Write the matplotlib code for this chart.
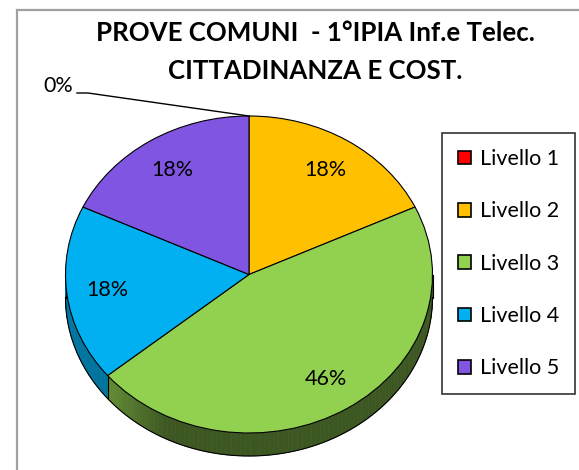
import numpy as np
import matplotlib
matplotlib.use('Agg')
import matplotlib.pyplot as plt
from matplotlib.patches import Polygon, Rectangle, Patch
from matplotlib.colors import to_rgb

plt.rcParams['font.family'] = ['Lato', 'DejaVu Sans']

# ---- data ----
labels = ['Livello 1', 'Livello 2', 'Livello 3', 'Livello 4', 'Livello 5']
values = [0, 18, 46, 18, 18]
colors = ['#ff0000', '#ffc000', '#92d050', '#00b0f0', '#8055e2']
title = 'PROVE COMUNI  - 1°IPIA Inf.e Telec.\nCITTADINANZA E COST.'

W, H = 579, 470
fig = plt.figure(figsize=(W / 100, H / 100), dpi=100)

# pie seen in perspective: ellipse centre / radii in pixels, side depth
cx, cy, rx, ry = 249, 274.5, 183.5, 158.5
depth = 23 / ry
x0, x1, y0, y1 = -1.05, 1.05, -1.22, 1.05
ax = fig.add_axes([(cx + x0 * rx) / W, (H - (cy - y0 * ry)) / H,
                   (x1 - x0) * rx / W, (y1 - y0) * ry / H])

wedges, texts, autotexts = ax.pie(
    values, colors=colors, startangle=90, counterclock=False,
    autopct=lambda p: f'{p:.0f}%', pctdistance=0.78,
    wedgeprops=dict(edgecolor='black', linewidth=0.8),
    textprops=dict(fontsize=15.5, color='black'))
ax.set_aspect('auto')
ax.set_xlim(x0, x1)
ax.set_ylim(y0, y1)
ax.axis('off')


def shade(rgb, t):
    k = 0.42 + 0.24 * np.clip((-np.cos(np.radians(t)) - 0.45) / 0.3, 0, 1)
    return tuple(np.array(rgb) * k)


# visible rim (front half of the disc)
for w, c in zip(wedges, colors):
    rgb = to_rgb(c)
    for k in (-360, 0, 360):
        a = max(w.theta1, -180 + k)
        b = min(w.theta2, 0 + k)
        if b <= a:
            continue
        ts = np.linspace(a, b, int((b - a) / 1.5) + 2)
        for t0, t1 in zip(ts[:-1], ts[1:]):
            tt = np.radians([t0, t1])
            xs, ys = np.cos(tt), np.sin(tt)
            poly = np.column_stack([np.r_[xs, xs[::-1]], np.r_[ys, ys[::-1] - depth]])
            col = shade(rgb, (t0 + t1) / 2)
            ax.add_patch(Polygon(poly, closed=True, fc=col, ec=col, lw=0.5, zorder=0.5))

tt = np.radians(np.linspace(-180, 0, 200))
ax.plot(np.cos(tt), np.sin(tt) - depth, color='black', lw=0.8, zorder=0.6)
edges = [-180, 0] + [w.theta1 for w in wedges if -180 < w.theta1 < 0]
for e in edges:
    r = np.radians(e)
    ax.plot([np.cos(r)] * 2, [np.sin(r), np.sin(r) - depth], color='black', lw=0.8, zorder=0.6)

# 0% label pulled outside with a leader line
autotexts[0].set_visible(False)
top = np.radians(wedges[0].theta1)
lx, ly = (77 - cx) / rx, (cy - 93) / ry
kx = (88 - cx) / rx
ax.plot([lx, kx, np.cos(top)], [ly, ly, np.sin(top)], color='black', lw=1, clip_on=False)
ax.text((73 - cx) / rx, (cy - 86) / ry, f'{values[0]}%', ha='right', va='center',
        fontsize=15.5, clip_on=False)

fig.text(315 / W, 1 - 21 / H, title, ha='center', va='top', fontsize=18.6,
         fontweight='bold', linespacing=1.68)

handles = [Patch(fc=c, ec='black', lw=1.2) for c in colors]
leg = fig.legend(handles, labels, loc='upper left', bbox_to_anchor=(442 / W, 1 - 133 / H),
                 frameon=True, fancybox=False, edgecolor='black', fontsize=15.5,
                 handlelength=0.6, handleheight=0.6, handletextpad=0.4,
                 labelspacing=1.5, borderpad=0.75, borderaxespad=0)
leg.get_frame().set_linewidth(1.2)

fig.add_artist(Rectangle((17 / W, -0.05), 1, 1.05 - 10.5 / H, transform=fig.transFigure,
                         fill=False, ec='#a0a0a0', lw=1.6))

fig.savefig('out.png', dpi=100)
